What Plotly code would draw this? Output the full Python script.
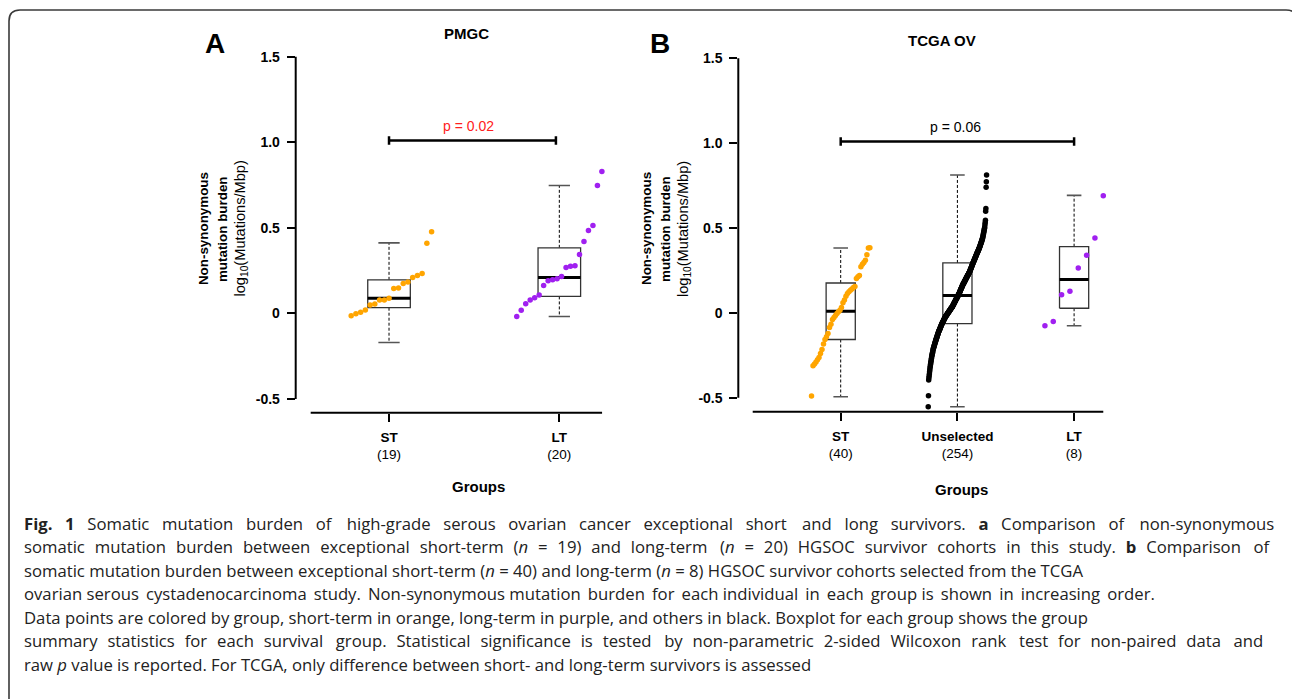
import plotly.graph_objects as go

# ---------------- data ----------------
groups_A = ["ST", "LT"]
n_A = [19, 20]
groups_B = ["ST", "Unselected", "LT"]
n_B = [40, 254, 8]

pmgc_st = [-0.014, -0.002, 0.006, 0.019, 0.049, 0.054, 0.078, 0.078, 0.089,
           0.146, 0.148, 0.175, 0.183, 0.210, 0.222, 0.233, 0.410, 0.477]
pmgc_lt = [-0.018, 0.018, 0.056, 0.078, 0.091, 0.107, 0.163, 0.191, 0.196, 0.202,
           0.216, 0.268, 0.276, 0.278, 0.344, 0.420, 0.484, 0.514, 0.747, 0.829]

tcga_st = [-0.490, -0.312, -0.302, -0.290, -0.276, -0.263, -0.239, -0.216, -0.184, -0.157,
           -0.141, -0.122, -0.086, -0.067, -0.039, -0.027, -0.016, -0.004, 0.006, 0.016,
           0.031, 0.059, 0.075, 0.098, 0.114, 0.125, 0.133, 0.141, 0.149, 0.155,
           0.202, 0.212, 0.220, 0.271, 0.286, 0.296, 0.310, 0.343, 0.382, 0.384]

tcga_unsel = [
    -0.553, -0.488,
    -0.396, -0.383, -0.371, -0.359, -0.346, -0.334,
    -0.322, -0.313, -0.303, -0.294, -0.285, -0.276, -0.267, -0.259,
    -0.252, -0.245, -0.238, -0.232, -0.225, -0.218, -0.212,
    -0.207, -0.202, -0.198, -0.193, -0.189, -0.184, -0.179, -0.175, -0.170, -0.166, -0.161,
    -0.157, -0.153, -0.149, -0.145, -0.141, -0.137, -0.132, -0.128, -0.124, -0.120, -0.116, -0.112,
    -0.109, -0.106, -0.102, -0.099, -0.096, -0.092, -0.089, -0.086, -0.082, -0.079, -0.076, -0.072,
    -0.069, -0.066, -0.063,
    -0.060, -0.057, -0.054, -0.052, -0.049, -0.046, -0.043, -0.041, -0.038, -0.035, -0.032, -0.030,
    -0.027, -0.024,
    -0.022, -0.020, -0.018, -0.016, -0.014, -0.012, -0.010, -0.008, -0.006, -0.004, -0.002, 0.000,
    0.002, 0.004, 0.006,
    0.008, 0.010, 0.012, 0.014, 0.016, 0.018, 0.020, 0.022, 0.024, 0.026, 0.028, 0.030,
    0.032, 0.033, 0.035,
    0.038, 0.040, 0.043, 0.046, 0.048, 0.051, 0.054, 0.056, 0.059, 0.062, 0.064, 0.067,
    0.070, 0.072, 0.075,
    0.078, 0.080, 0.083, 0.085, 0.088, 0.091, 0.093, 0.096, 0.098, 0.101, 0.104, 0.106,
    0.109, 0.111, 0.114,
    0.117, 0.121, 0.124, 0.127, 0.130, 0.134, 0.137, 0.140, 0.143, 0.147, 0.150, 0.153,
    0.156, 0.160, 0.163,
    0.166, 0.168, 0.171, 0.173, 0.176, 0.179, 0.181, 0.184, 0.186, 0.189, 0.192, 0.194,
    0.197, 0.199, 0.202,
    0.205, 0.207, 0.210, 0.212, 0.215, 0.218, 0.220, 0.223, 0.225, 0.228, 0.231, 0.233,
    0.236, 0.238, 0.241,
    0.244, 0.248, 0.251, 0.255, 0.258, 0.262, 0.265, 0.269, 0.272, 0.276, 0.279, 0.283,
    0.286, 0.290,
    0.293, 0.297, 0.300, 0.303, 0.306, 0.310, 0.313, 0.316, 0.319, 0.323, 0.326, 0.329,
    0.332, 0.336, 0.339,
    0.342, 0.346, 0.349, 0.352, 0.355, 0.359, 0.362, 0.365, 0.368, 0.372, 0.375, 0.378,
    0.381, 0.385, 0.388,
    0.392, 0.396, 0.400, 0.404, 0.408, 0.412, 0.416, 0.420, 0.424, 0.429, 0.433, 0.437,
    0.443, 0.449, 0.456, 0.463, 0.470, 0.477, 0.484, 0.491, 0.499, 0.506,
    0.520, 0.533, 0.546,
    0.598, 0.615, 0.740, 0.773, 0.812]

tcga_lt = [-0.076, -0.051, 0.106, 0.127, 0.265, 0.339, 0.441, 0.690]

# box statistics (lower whisker, Q1, median, Q3, upper whisker) as drawn
box_lo_A = [-0.170, -0.018]
box_q1_A = [0.033, 0.099]
box_med_A = [0.089, 0.210]
box_q3_A = [0.196, 0.383]
box_hi_A = [0.412, 0.747]

box_lo_B = [-0.494, -0.553, -0.076]
box_q1_B = [-0.157, -0.063, 0.027]
box_med_B = [0.010, 0.102, 0.196]
box_q3_B = [0.176, 0.294, 0.390]
box_hi_B = [0.382, 0.812, 0.692]

p_labels = ["p = 0.02", "p = 0.06"]
yticks = [-0.5, 0, 0.5, 1.0, 1.5]
ytick_text = ["-0.5", "0", "0.5", "1.0", "1.5"]

caption_lines = [
    "<b>Fig. 1</b> Somatic mutation burden of high-grade serous ovarian cancer exceptional short and long survivors. <b>a</b> Comparison of non-synonymous",
    "somatic mutation burden between exceptional short-term (<i>n</i> = 19) and long-term (<i>n</i> = 20) HGSOC survivor cohorts in this study. <b>b</b> Comparison of",
    "somatic mutation burden between exceptional short-term (<i>n</i> = 40) and long-term (<i>n</i> = 8) HGSOC survivor cohorts selected from the TCGA",
    "ovarian serous cystadenocarcinoma study. Non-synonymous mutation burden for each individual in each group is shown in increasing order.",
    "Data points are colored by group, short-term in orange, long-term in purple, and others in black. Boxplot for each group shows the group",
    "summary statistics for each survival group. Statistical significance is tested by non-parametric 2-sided Wilcoxon rank test for non-paired data and",
    "raw <i>p</i> value is reported. For TCGA, only difference between short- and long-term survivors is assessed",
]

# ---------------- styles / layout ----------------
W, H = 1292, 699
ORANGE = "#FFA500"
PURPLE = "#A020F0"
FONT = "Liberation Sans"
CAPFONT = "Open Sans"
CAPSIZE = 16.7
# extra word spacing (px) to reproduce the stretched caption lines
caption_extra_px = [189, 154, 0, 44, 0, 141, 0]
THIN = "\u2009"
THIN_PX = 0.2 * CAPSIZE


def fx(px):
    return px / W


def fy(py):
    return 1 - py / H


def stretch(line, extra):
    words = line.split(" ")
    gaps = len(words) - 1
    total = int(round(extra / THIN_PX))
    if total <= 0 or gaps <= 0:
        return line
    out = words[0]
    for i in range(gaps):
        k = total * (i + 1) // gaps - total * i // gaps
        out += " " + THIN * k + words[i + 1]
    return out


fig = go.Figure()


def add_box(xa, ya, c, lo, q1, med, q3, hi, hw=0.125, cw=0.0625):
    fig.add_trace(go.Scatter(x=[c, c, None, c, c], y=[q3, hi, None, q1, lo], mode="lines",
                             line=dict(color="black", width=1, dash="3px,2px"),
                             xaxis=xa, yaxis=ya, hoverinfo="skip", showlegend=False))
    fig.add_trace(go.Scatter(x=[c - cw, c + cw, None, c - cw, c + cw], y=[hi, hi, None, lo, lo],
                             mode="lines", line=dict(color="#555555", width=1.6),
                             xaxis=xa, yaxis=ya, hoverinfo="skip", showlegend=False))
    fig.add_trace(go.Scatter(x=[c - hw, c + hw, c + hw, c - hw, c - hw], y=[q1, q1, q3, q3, q1],
                             mode="lines", line=dict(color="#333333", width=1.3),
                             fill="toself", fillcolor="white",
                             xaxis=xa, yaxis=ya, hoverinfo="skip", showlegend=False))
    fig.add_trace(go.Scatter(x=[c - hw, c + hw], y=[med, med], mode="lines",
                             line=dict(color="black", width=3),
                             xaxis=xa, yaxis=ya, hoverinfo="skip", showlegend=False))


def add_points(xa, ya, c, vals, n, color):
    offset = n - len(vals)
    xs = [c - 0.25 + 0.5 * (offset + i) / (n - 1) for i in range(len(vals))]
    fig.add_trace(go.Scatter(x=xs, y=vals, mode="markers",
                             marker=dict(color=color, size=5.5, line=dict(width=0)),
                             xaxis=xa, yaxis=ya, hoverinfo="y", showlegend=False))


for i in range(2):
    add_box("x", "y", i + 1, box_lo_A[i], box_q1_A[i], box_med_A[i], box_q3_A[i], box_hi_A[i])
add_points("x", "y", 1, pmgc_st, n_A[0], ORANGE)
add_points("x", "y", 2, pmgc_lt, n_A[1], PURPLE)

for i in range(3):
    add_box("x2", "y2", i + 1, box_lo_B[i], box_q1_B[i], box_med_B[i], box_q3_B[i], box_hi_B[i])
add_points("x2", "y2", 1, tcga_st, n_B[0], ORANGE)
add_points("x2", "y2", 2, tcga_unsel, n_B[1], "black")
add_points("x2", "y2", 3, tcga_lt, n_B[2], PURPLE)

yA_range = [-0.5806, 1.51]
yA_bottom_px, yA_scale = 412.7, 171.1
yA_top_px = yA_bottom_px - (yA_range[1] - yA_range[0]) * yA_scale
yB_range = [-0.5825, 1.51]
yB_bottom_px, yB_scale = 411.7, 169.7
yB_top_px = yB_bottom_px - (yB_range[1] - yB_range[0]) * yB_scale

xA_range = [0.452, 2.30]
xA_left_px, xA_scale = 295.7, 170.3
xA_right_px = xA_left_px + (xA_range[1] - xA_range[0]) * xA_scale
xB_range = [0.1225, 3.30]
xB_left_px, xB_scale = 738.3, 116.7
xB_right_px = xB_left_px + (xB_range[1] - xB_range[0]) * xB_scale

tickfont_y = dict(family=FONT, size=14, color="black")
tickfont_x = dict(family=FONT, size=13.5, color="black")

common_ax = dict(showgrid=False, zeroline=False, showline=False, ticks="outside",
                 ticklen=8, tickwidth=2, tickcolor="black", fixedrange=True, automargin=False)

fig.update_layout(
    template="none",
    width=W, height=H, autosize=False,
    margin=dict(l=0, r=0, t=0, b=0, pad=0, autoexpand=False),
    paper_bgcolor="white", plot_bgcolor="white", showlegend=False,
    xaxis=dict(domain=[fx(xA_left_px), fx(xA_right_px)], range=xA_range, anchor="y",
               tickvals=[1, 2],
               ticktext=[f"<b>{g}</b><br>({n})" for g, n in zip(groups_A, n_A)],
               tickfont=tickfont_x, ticklabelstandoff=4, **common_ax),
    yaxis=dict(domain=[fy(yA_bottom_px), fy(yA_top_px)], range=yA_range, anchor="x",
               tickvals=yticks, ticktext=[f"<b>{t}</b>" for t in ytick_text],
               tickfont=tickfont_y, ticklabelstandoff=4, **common_ax),
    xaxis2=dict(domain=[fx(xB_left_px), fx(xB_right_px)], range=xB_range, anchor="y2",
                tickvals=[1, 2, 3],
                ticktext=[f"<b>{g}</b><br>({n})" for g, n in zip(groups_B, n_B)],
                tickfont=tickfont_x, ticklabelstandoff=4, **common_ax),
    yaxis2=dict(domain=[fy(yB_bottom_px), fy(yB_top_px)], range=yB_range, anchor="x2",
                tickvals=yticks, ticktext=[f"<b>{t}</b>" for t in ytick_text],
                tickfont=tickfont_y, ticklabelstandoff=4, **common_ax),
)

shapes = []
for xr, yr, x0, x1 in [("x", "y", 0.54, 2.251), ("x2", "y2", 0.246, 3.25)]:
    shapes.append(dict(type="line", xref=xr + " domain", yref=yr, x0=0, x1=0, y0=-0.5, y1=1.5,
                       line=dict(color="black", width=2)))
    shapes.append(dict(type="line", xref=xr, yref=yr + " domain", x0=x0, x1=x1, y0=0, y1=0,
                       line=dict(color="black", width=2)))
for xr, yr, a, b in [("x", "y", 1.0, 1.98), ("x2", "y2", 1.0, 3.0)]:
    yb = 1.01
    shapes.append(dict(type="line", xref=xr, yref=yr, x0=a, x1=b, y0=yb, y1=yb,
                       line=dict(color="black", width=2.5)))
    for xv in (a, b):
        shapes.append(dict(type="line", xref=xr, yref=yr, x0=xv, x1=xv, y0=yb - 0.025, y1=yb + 0.025,
                           line=dict(color="black", width=2.5)))

L, T, R, B, r = 9, 10, 1297, 720, 11
frame_path = (f"M {fx(L)},{fy(B)} L {fx(L)},{fy(T + r)} Q {fx(L)},{fy(T)} {fx(L + r)},{fy(T)} "
              f"L {fx(R - r)},{fy(T)} Q {fx(R)},{fy(T)} {fx(R)},{fy(T + r)} L {fx(R)},{fy(B)}")
shapes.append(dict(type="path", xref="paper", yref="paper", path=frame_path,
                   line=dict(color="#3a3a3a", width=1.6)))
fig.update_layout(shapes=shapes)

ann = []


def pa(px, py, text, size, bold=False, color="black", angle=0, xanchor="center", family=FONT):
    ann.append(dict(xref="paper", yref="paper", x=fx(px), y=fy(py), text=(f"<b>{text}</b>" if bold else text),
                    showarrow=False, xanchor=xanchor, yanchor="middle", textangle=angle,
                    font=dict(family=family, size=size, color=color)))


pa(215.3, 43.3, "A", 28, bold=True)
pa(660.3, 43.3, "B", 28, bold=True)
pa(466, 33.3, "PMGC", 15, bold=True)
pa(942, 40.7, "TCGA OV", 15, bold=True)
for xs in [(203.3, 222.3, 240.7), (647.2, 666.2, 683.3)]:
    pa(xs[0], 228.8, "Non-synonymous", 13.4, bold=True, angle=-90)
    pa(xs[1], 228.8, "mutation burden", 13.4, bold=True, angle=-90)
    pa(xs[2], 228.8, "log<sub>10</sub>(Mutations/Mbp)", 14.6, angle=-90)
pa(478, 486.7, "Groups", 15, bold=True)
pa(961, 489, "Groups", 15, bold=True)

ann.append(dict(xref="x", yref="y", x=1.465, y=1.093, text=p_labels[0], showarrow=False,
                font=dict(family=FONT, size=14, color="#ff2020")))
ann.append(dict(xref="x2", yref="y2", x=1.98, y=1.093, text=p_labels[1], showarrow=False,
                font=dict(family=FONT, size=14, color="black")))

for k, line in enumerate(caption_lines):
    pa(22, 523 + 23.5 * k, stretch(line, caption_extra_px[k]), CAPSIZE, xanchor="left",
       color="#222222", family=CAPFONT)

fig.update_layout(annotations=ann)
fig.write_html("out.html",
               config={"displayModeBar": False, "responsive": False},
               post_script="document.body.style.margin='0';document.body.style.overflow='hidden';")
